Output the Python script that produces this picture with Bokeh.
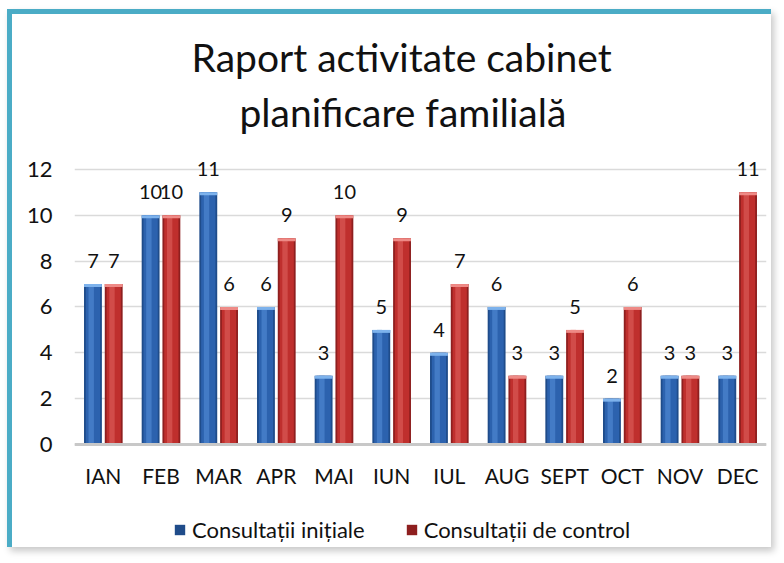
from bokeh.plotting import figure
from bokeh.models import (ColumnDataSource, FactorRange, Range1d, Legend, LegendItem,
                          Title, FixedTicker, Span)
from bokeh.transform import dodge
from bokeh.core.properties import value
from bokeh.embed import file_html
from bokeh.resources import INLINE

months = ["IAN", "FEB", "MAR", "APR", "MAI", "IUN", "IUL", "AUG", "SEPT", "OCT", "NOV", "DEC"]
initiale = [7, 10, 11, 6, 3, 5, 4, 6, 3, 2, 3, 3]
control = [7, 10, 6, 9, 10, 9, 7, 3, 5, 6, 3, 11]
series_names = ["Consultații inițiale", "Consultații de control"]
title_lines = ["Raport activitate cabinet", "planificare familială"]
y_ticks = [0, 2, 4, 6, 8, 10, 12]

FONT = "Lato"
src = ColumnDataSource(dict(
    m=months, a=initiale, b=control,
    at=[str(v) for v in initiale], bt=[str(v) for v in control],
    a_cap=[v - 0.13 for v in initiale], b_cap=[v - 0.13 for v in control],
))

# the frame reaches down to the legend row so the legend is not clipped
p = figure(width=764, height=538, x_range=FactorRange(*months), y_range=Range1d(-4.62, 12.91),
           output_backend="svg", toolbar_location=None,
           min_border_left=62, min_border_right=10, min_border_top=134, min_border_bottom=2,
           background_fill_color="white", border_fill_color="white")
p.outline_line_color = None
p.styles = {"margin-left": "7px", "margin-top": "9px",
            "border-top": "5px solid #4BACC6", "border-left": "5px solid #4BACC6",
            "box-shadow": "3px 4px 7px rgba(0,0,0,0.22)"}

# titles (last added is top-most)
p.add_layout(Title(text=title_lines[1], align="left", text_font=FONT, text_font_size="39px",
                   text_font_style="normal", text_color="#111111", offset=165, standoff=28), "above")
p.add_layout(Title(text=title_lines[0], align="left", text_font=FONT, text_font_size="39px",
                   text_font_style="normal", text_color="#111111", offset=117, standoff=-15), "above")

# grid + baseline
p.xgrid.grid_line_color = None
p.ygrid.grid_line_color = "#DADADA"
p.ygrid.grid_line_width = 1.5
p.add_layout(Span(location=0, dimension="width", line_color="#C8C8C8", line_width=3))

BW = 0.31
OFF = 0.18
xa = dodge("m", -OFF, range=p.x_range)
xb = dodge("m", OFF, range=p.x_range)
xa_h = dodge("m", -OFF - 0.03, range=p.x_range)
xb_h = dodge("m", OFF - 0.03, range=p.x_range)

# blue cylinders
ra = p.vbar(x=xa, top="a", width=BW, source=src, fill_color="#1F4C8A", line_color=None)
p.vbar(x=xa, top="a", width=BW * 0.8, source=src, fill_color="#2C62AE", line_color=None)
p.vbar(x=xa_h, top="a", width=BW * 0.3, source=src, fill_color="#4A82CC", line_color=None, fill_alpha=0.8)
p.vbar(x=xa, top="a", bottom="a_cap", width=BW, source=src, fill_color="#7DB2EC", line_color=None)
# red cylinders
rb = p.vbar(x=xb, top="b", width=BW, source=src, fill_color="#8E1F1F", line_color=None)
p.vbar(x=xb, top="b", width=BW * 0.8, source=src, fill_color="#BF2F2D", line_color=None)
p.vbar(x=xb_h, top="b", width=BW * 0.3, source=src, fill_color="#D65450", line_color=None, fill_alpha=0.8)
p.vbar(x=xb, top="b", bottom="b_cap", width=BW, source=src, fill_color="#EE8A86", line_color=None)

# value labels
for xx, yy, tt in ((xa, "a", "at"), (xb, "b", "bt")):
    p.text(x=xx, y=yy, text=tt, source=src, text_align="center", text_baseline="alphabetic",
           y_offset=-23, text_font=value(FONT), text_font_size="20px", text_color="#111111")

# month (category) labels under the baseline, placed through the categorical x scale
p.text(x="m", y=0, text="m", source=src, text_align="center", text_baseline="middle",
       y_offset=31, text_font=value(FONT), text_font_size="21px", text_color="#111111")

# axes
p.xaxis.visible = False
p.yaxis.ticker = FixedTicker(ticks=y_ticks)
p.yaxis.axis_line_color = None
p.yaxis.major_tick_line_color = None
p.yaxis.minor_tick_line_color = None
p.yaxis.major_tick_out = 0
p.yaxis.minor_tick_out = 0
p.yaxis.major_label_standoff = 22
p.yaxis.major_label_text_font = FONT
p.yaxis.major_label_text_font_size = "22px"
p.yaxis.major_label_text_color = "#111111"

legend = Legend(items=[LegendItem(label=series_names[0], renderers=[ra]),
                       LegendItem(label=series_names[1], renderers=[rb])],
                orientation="horizontal", location=(99, 7),
                label_text_font=FONT, label_text_font_size="22px", label_text_color="#111111",
                glyph_width=13, glyph_height=13, label_standoff=6, spacing=40,
                margin=0, padding=4, border_line_color=None, background_fill_alpha=0)
p.add_layout(legend)

open("out.html", "w").write(file_html(p, INLINE))
